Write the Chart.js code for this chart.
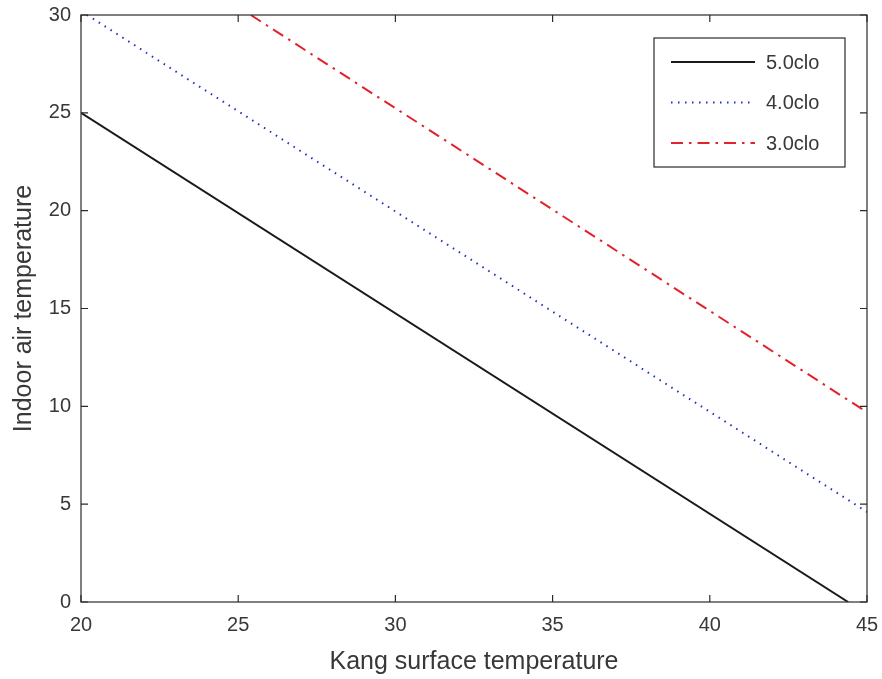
<!DOCTYPE html>
<html>
<head>
<meta charset="utf-8">
<script src="https://cdn.jsdelivr.net/npm/chart.js@4/dist/chart.umd.min.js"></script>
<style>
  html, body { margin: 0; padding: 0; background: #fff; }
  #wrap { width: 882px; height: 679px; }
</style>
</head>
<body>
<div id="wrap"><canvas id="c" width="882" height="679"></canvas></div>
<script>
// Comfort lines: indoor air temperature vs Kang surface temperature for three clothing levels
const seriesLabels = ['5.0clo', '4.0clo', '3.0clo'];
const kang5 = [20, 44.4];
const air5  = [25, 0];
const kang4 = [20, 45];
const air4  = [30.2, 4.6];
const kang3 = [25.4, 45];
const air3  = [30, 9.7];
const xTicks = [20, 25, 30, 35, 40, 45];
const yTicks = [0, 5, 10, 15, 20, 25, 30];

const toPoints = (xs, ys) => xs.map((x, i) => ({ x: x, y: ys[i] }));

const FONT = '"Liberation Sans", Arial, Helvetica, sans-serif';
const TEXT = '#383838';
const AXIS = '#2b2b2b';

// Box around the plot with inward tick marks on all four sides
const boxPlugin = {
  id: 'axesBox',
  afterDatasetsDraw(chart) {
    const { ctx, chartArea: a, scales } = chart;
    ctx.save();
    ctx.strokeStyle = AXIS;
    ctx.lineWidth = 1.2;
    ctx.strokeRect(a.left, a.top, a.right - a.left, a.bottom - a.top);
    const len = 7;
    ctx.beginPath();
    xTicks.forEach(v => {
      const px = scales.x.getPixelForValue(v);
      ctx.moveTo(px, a.bottom); ctx.lineTo(px, a.bottom - len);
      ctx.moveTo(px, a.top); ctx.lineTo(px, a.top + len);
    });
    yTicks.forEach(v => {
      const py = scales.y.getPixelForValue(v);
      ctx.moveTo(a.left, py); ctx.lineTo(a.left + len, py);
      ctx.moveTo(a.right, py); ctx.lineTo(a.right - len, py);
    });
    ctx.stroke();
    ctx.restore();
  }
};

// Boxed legend inside the upper right of the plot
const legendPlugin = {
  id: 'insetLegend',
  afterDraw(chart) {
    const { ctx, chartArea: a } = chart;
    const right = a.right - 22, left = right - 191;
    const top = a.top + 23, bottom = top + 129;
    ctx.save();
    ctx.fillStyle = '#ffffff';
    ctx.fillRect(left, top, right - left, bottom - top);
    ctx.strokeStyle = AXIS;
    ctx.lineWidth = 1.2;
    ctx.strokeRect(left, top, right - left, bottom - top);
    chart.data.datasets.forEach((ds, i) => {
      const y = top + 24 + i * 40.5;
      ctx.beginPath();
      ctx.strokeStyle = ds.borderColor;
      ctx.lineWidth = ds.borderWidth;
      ctx.setLineDash(ds.borderDash || []);
      ctx.moveTo(left + 17, y);
      ctx.lineTo(left + 101, y);
      ctx.stroke();
      ctx.setLineDash([]);
      ctx.fillStyle = TEXT;
      ctx.font = '20px ' + FONT;
      ctx.textBaseline = 'middle';
      ctx.textAlign = 'left';
      ctx.fillText(ds.label, left + 112, y + 1);
    });
    ctx.restore();
  }
};

new Chart(document.getElementById('c'), {
  type: 'scatter',
  data: {
    datasets: [
      {
        label: seriesLabels[0],
        data: toPoints(kang5, air5),
        showLine: true,
        borderColor: '#1a1a1a',
        borderWidth: 2,
        pointRadius: 0
      },
      {
        label: seriesLabels[1],
        data: toPoints(kang4, air4),
        showLine: true,
        borderColor: '#1f2fc0',
        borderWidth: 2,
        borderDash: [1.5, 5.5],
        pointRadius: 0
      },
      {
        label: seriesLabels[2],
        data: toPoints(kang3, air3),
        showLine: true,
        borderColor: '#e3222b',
        borderWidth: 2,
        borderDash: [12, 6, 2.5, 6],
        pointRadius: 0
      }
    ]
  },
  options: {
    responsive: false,
    animation: false,
    devicePixelRatio: 1,
    layout: { padding: { top: 15, right: 15, left: 0, bottom: 0 } },
    plugins: {
      legend: { display: false },
      tooltip: { enabled: false }
    },
    scales: {
      x: {
        type: 'linear',
        min: 20, max: 45,
        afterFit(s) { s.height = 77; s.paddingLeft = 0; s.paddingRight = 0; },
        afterBuildTicks(s) { s.ticks = xTicks.map(v => ({ value: v })); },
        grid: { display: false, drawTicks: false },
        border: { display: false },
        ticks: { color: TEXT, font: { family: FONT, size: 20 }, padding: 11 },
        title: {
          display: true,
          text: 'Kang surface temperature',
          color: TEXT,
          font: { family: FONT, size: 25 },
          padding: { top: 0, bottom: 2 }
        }
      },
      y: {
        type: 'linear',
        min: 0, max: 30,
        afterFit(s) { s.width = 81; s.paddingTop = 0; s.paddingBottom = 0; },
        afterBuildTicks(s) { s.ticks = yTicks.map(v => ({ value: v })); },
        grid: { display: false, drawTicks: false },
        border: { display: false },
        ticks: { color: TEXT, font: { family: FONT, size: 20 }, padding: 10 },
        title: {
          display: true,
          text: 'Indoor air temperature',
          color: TEXT,
          font: { family: FONT, size: 25 },
          padding: { top: 9, bottom: 0 }
        }
      }
    }
  },
  plugins: [boxPlugin, legendPlugin]
});
</script>
</body>
</html>
